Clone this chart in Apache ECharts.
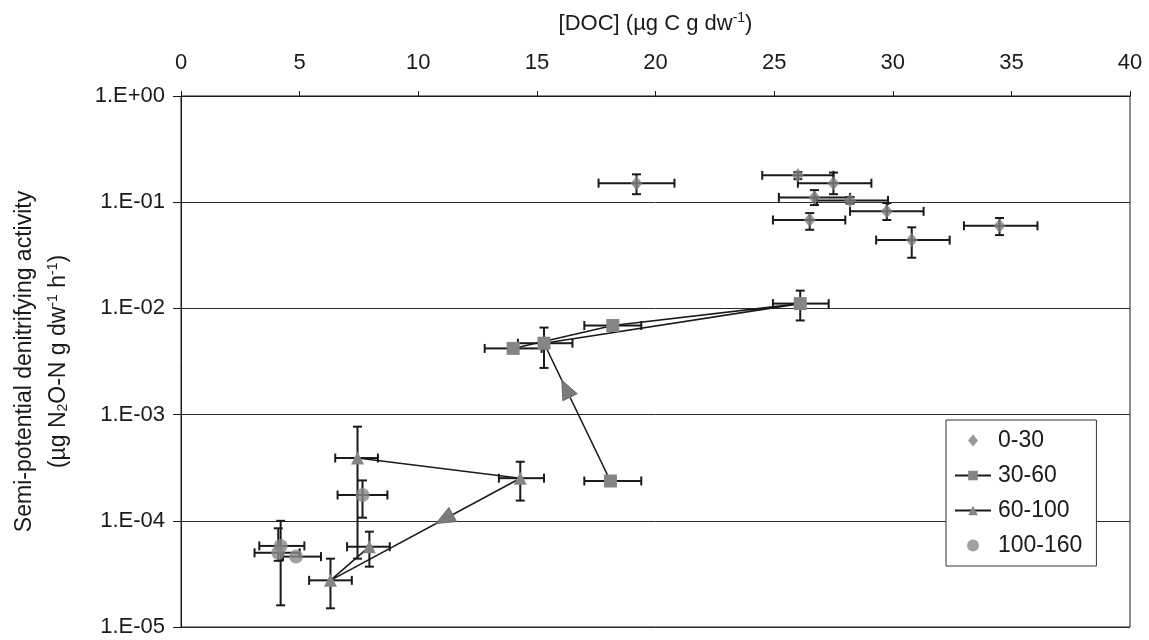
<!DOCTYPE html>
<html>
<head>
<meta charset="utf-8">
<script src="https://cdn.jsdelivr.net/npm/echarts@6/dist/echarts.min.js"></script>
<style>
  html, body { margin: 0; padding: 0; background: #fff; }
  #chart { width: 1149px; height: 640px; }
</style>
</head>
<body>
<div id="chart"></div>
<script>
// Soil depth layers (cm)
const layerNames = ['0-30', '30-60', '60-100', '100-160'];

// Each row: [DOC, activity, DOC low, DOC high, activity low, activity high]
const layer0_30 = [
  [19.2, 0.151, 17.6, 20.8, 0.119, 0.183],
  [26.0, 0.179, 24.5, 27.5, 0.165, 0.192],
  [27.5, 0.151, 26.0, 29.1, 0.119, 0.190],
  [26.7, 0.111, 25.2, 28.2, 0.094, 0.130],
  [28.2, 0.104, 26.8, 29.8, 0.097, 0.112],
  [29.75, 0.082, 28.2, 31.3, 0.068, 0.098],
  [26.5, 0.068, 24.95, 28.0, 0.055, 0.079],
  [30.8, 0.044, 29.3, 32.4, 0.030, 0.058],
  [34.5, 0.060, 33.0, 36.1, 0.049, 0.071]
];
const layer30_60 = [
  [18.1, 2.37e-4, 17.0, 19.4, 2.37e-4, 2.37e-4],
  [15.3, 4.7e-3, 14.2, 16.5, 2.75e-3, 6.6e-3],
  [26.1, 1.11e-2, 24.95, 27.3, 7.7e-3, 1.47e-2],
  [18.2, 6.9e-3, 17.0, 19.4, 6.9e-3, 6.9e-3],
  [14.0, 4.2e-3, 12.8, 15.2, 4.2e-3, 4.2e-3]
];
const layer60_100 = [
  [7.44, 3.9e-4, 6.5, 8.3, 4.4e-5, 7.7e-4],
  [14.3, 2.52e-4, 13.4, 15.3, 1.55e-4, 3.6e-4],
  [6.3, 2.75e-5, 5.4, 7.2, 1.5e-5, 4.4e-5],
  [7.94, 5.7e-5, 7.0, 8.8, 3.7e-5, 7.9e-5]
];
const layer100_160 = [
  [7.65, 1.75e-4, 6.6, 8.7, 1.07e-4, 2.4e-4],
  [4.2, 5.8e-5, 3.3, 5.2, 1.6e-5, 1.0e-4],
  [4.1, 5.0e-5, 3.1, 5.0, 4.2e-5, 8.5e-5],
  [4.85, 4.6e-5, 4.3, 5.9, 4.6e-5, 4.6e-5]
];

// Direction arrows placed on connecting lines: [layer, from index, to index, position along segment]
const arrowSpecs = [
  [layer30_60, 0, 1, 0.67],
  [layer60_100, 1, 2, 0.40]
];

// Axis ranges
const docMin = 0, docMax = 40, docStep = 5;
const activityMin = 1e-5, activityMax = 1;

const FONT = '"Liberation Sans", Arial, sans-serif';
const INK = '#1a1a1a';
const MARKER = '#858585';

function expLabel(v) {
  const e = Math.round(Math.log10(v));
  return '1.E' + (e < 0 ? '-' : '+') + String(Math.abs(e)).padStart(2, '0');
}

function renderErrorBars(params, api) {
  const x = api.value(0), y = api.value(1);
  const xl = api.value(2), xh = api.value(3), yl = api.value(4), yh = api.value(5);
  const c = api.coord([x, y]);
  const cap = 4.5;
  const style = { stroke: INK, lineWidth: 2 };
  const kids = [];
  const hBar = (v) => {
    const p = api.coord([v, y]);
    kids.push({ type: 'line', shape: { x1: c[0], y1: c[1], x2: p[0], y2: c[1] }, style });
    kids.push({ type: 'line', shape: { x1: p[0], y1: c[1] - cap, x2: p[0], y2: c[1] + cap }, style });
  };
  const vBar = (v) => {
    const p = api.coord([x, v]);
    kids.push({ type: 'line', shape: { x1: c[0], y1: c[1], x2: c[0], y2: p[1] }, style });
    kids.push({ type: 'line', shape: { x1: c[0] - cap, y1: p[1], x2: c[0] + cap, y2: p[1] }, style });
  };
  if (xl < x) hBar(xl);
  if (xh > x) hBar(xh);
  if (yl < y) vBar(yl);
  if (yh > y) vBar(yh);
  return { type: 'group', children: kids };
}

function renderArrow(params, api) {
  const a = api.coord([api.value(0), api.value(1)]);
  const b = api.coord([api.value(2), api.value(3)]);
  const t = api.value(4);
  const px = a[0] + (b[0] - a[0]) * t;
  const py = a[1] + (b[1] - a[1]) * t;
  const ang = Math.atan2(b[1] - a[1], b[0] - a[0]);
  const cs = Math.cos(ang), sn = Math.sin(ang);
  const L = 19, W = 8;
  const tip = [px + cs * L / 2, py + sn * L / 2];
  const bx = px - cs * L / 2, by = py - sn * L / 2;
  return {
    type: 'polygon',
    shape: { points: [tip, [bx - sn * W, by + cs * W], [bx + sn * W, by - cs * W]] },
    style: { fill: '#7b7b7b', stroke: '#6a6a6a', lineWidth: 1 }
  };
}

function errorSeries(rows) {
  return {
    type: 'custom',
    renderItem: renderErrorBars,
    data: rows,
    encode: { x: 0, y: 1 },
    z: 2,
    silent: true
  };
}

const arrowData = arrowSpecs.map(([rows, i, j, t]) => [rows[i][0], rows[i][1], rows[j][0], rows[j][1], t]);

const supSub = {
  sup: { fontSize: 14, fontFamily: FONT, color: INK, padding: [0, 0, 11, 0] },
  sub: { fontSize: 14, fontFamily: FONT, color: INK, padding: [9, 0, 0, 0] }
};

const chart = echarts.init(document.getElementById('chart'), null, { renderer: 'canvas' });

chart.setOption({
  animation: false,
  backgroundColor: '#fff',
  textStyle: { fontFamily: FONT },
  grid: {
    left: 178, right: 19, top: 96, bottom: 13,
    show: true, borderColor: INK, borderWidth: 1
  },
  xAxis: {
    type: 'value',
    position: 'top',
    min: docMin, max: docMax, interval: docStep,
    name: '[DOC] (µg C g dw{sup|-1})',
    nameLocation: 'middle',
    nameGap: 60,
    nameTextStyle: { fontSize: 22, color: INK, fontFamily: FONT, rich: supSub },
    axisLine: { show: true, lineStyle: { color: INK, width: 1 } },
    axisTick: { show: true, length: 5, lineStyle: { color: INK } },
    axisLabel: { fontSize: 22, color: INK, margin: 22, fontFamily: FONT },
    splitLine: { show: false }
  },
  yAxis: {
    type: 'log',
    logBase: 10,
    min: activityMin, max: activityMax,
    name: 'Semi-potential denitrifying activity\n(µg N{sub|2}O-N g dw{sup|-1} h{sup|-1})',
    nameLocation: 'middle',
    nameRotate: 90,
    nameGap: 105,
    nameTextStyle: { fontSize: 23, color: INK, fontFamily: FONT, lineHeight: 34, align: 'center', rich: supSub },
    axisLine: { show: true, lineStyle: { color: INK, width: 1 } },
    axisTick: { show: true, length: 8, lineStyle: { color: INK } },
    axisLabel: { fontSize: 22, color: INK, margin: 16, fontFamily: FONT, formatter: expLabel },
    splitLine: { show: true, lineStyle: { color: '#2a2a2a', width: 1 } },
    minorTick: { show: false }
  },
  legend: {
    data: [
      { name: layerNames[0], icon: 'path://M5,0L10,6L5,12L0,6Z' },
      { name: layerNames[1] },
      { name: layerNames[2] },
      { name: layerNames[3] }
    ],
    orient: 'vertical',
    left: 946, top: 420,
    padding: [9, 14, 9, 8],
    itemGap: 12,
    itemWidth: 36,
    itemHeight: 12,
    symbolKeepAspect: true,
    backgroundColor: '#fff',
    borderColor: '#333',
    borderWidth: 1,
    textStyle: { fontSize: 23, color: INK, fontFamily: FONT, padding: [0, 0, 0, 2] }
  },
  series: [
    errorSeries(layer0_30),
    errorSeries(layer30_60),
    errorSeries(layer60_100),
    errorSeries(layer100_160),
    {
      name: layerNames[0], type: 'scatter',
      data: layer0_30, symbol: 'diamond', symbolSize: [12, 14],
      itemStyle: { color: '#7e7e7e' }, z: 4
    },
    {
      name: layerNames[1], type: 'line',
      data: layer30_60, symbol: 'rect', symbolSize: 13,
      showAllSymbol: true,
      lineStyle: { color: INK, width: 1.6 },
      itemStyle: { color: MARKER }, z: 4
    },
    {
      name: layerNames[2], type: 'line',
      data: layer60_100, symbol: 'triangle', symbolSize: 13,
      showAllSymbol: true,
      lineStyle: { color: INK, width: 1.6 },
      itemStyle: { color: MARKER }, z: 4
    },
    {
      name: layerNames[3], type: 'scatter',
      data: layer100_160, symbol: 'circle', symbolSize: 14,
      itemStyle: { color: '#8a8a8a' }, z: 4
    },
    {
      type: 'custom',
      renderItem: renderArrow,
      data: arrowData,
      encode: { x: [0, 2], y: [1, 3] },
      z: 5,
      silent: true
    }
  ]
});
</script>
</body>
</html>
